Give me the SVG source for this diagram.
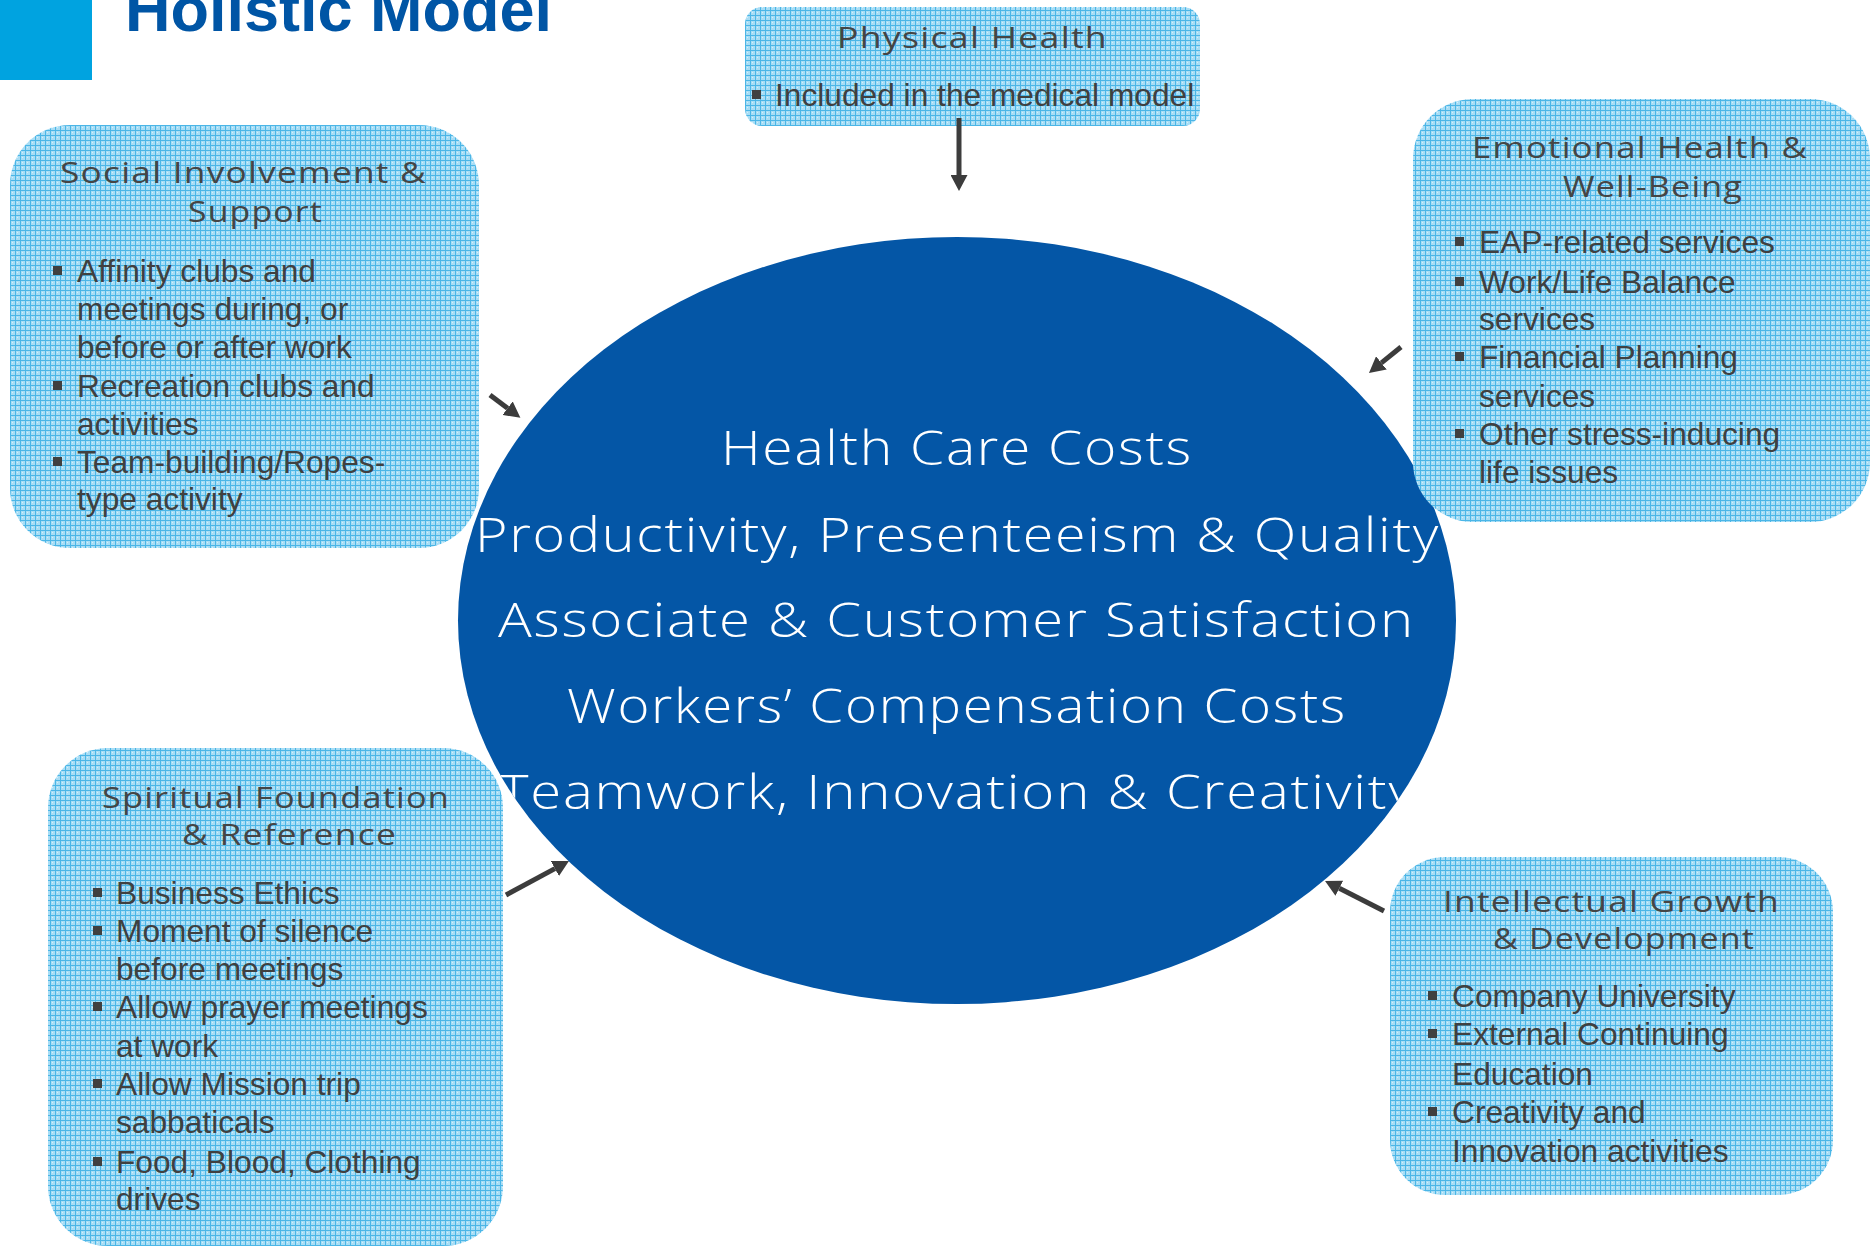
<svg xmlns="http://www.w3.org/2000/svg" width="1875" height="1247" viewBox="0 0 1875 1247">
  <defs>
    <style>
      .box { fill: url(#grid); }
      .head { font-family: "Open Sans", "DejaVu Sans", sans-serif; font-weight: 400; font-size: 29px; letter-spacing: 1px; fill: #454545; }
      .item { font-family: "Liberation Sans", Arial, sans-serif; font-size: 31.7px; fill: #404040; }
      .dot { fill: #404040; }
      .core { font-family: "Open Sans", "DejaVu Sans", sans-serif; font-weight: 300; font-size: 48px; letter-spacing: 1.5px; fill: #ffffff; }
      .conn line { stroke: #3c3c3c; stroke-width: 5; marker-end: url(#tip); }
    </style>
    <pattern id="grid" width="5" height="5" patternUnits="userSpaceOnUse">
      <rect width="5" height="5" fill="#a8ddf5"/>
      <rect width="5" height="1" fill="#4bb6e7"/>
      <rect width="1" height="5" fill="#4bb6e7"/>
      <rect x="2" y="2" width="1" height="1" fill="#d2f0fb"/>
    </pattern>
    <marker id="tip" markerUnits="userSpaceOnUse" viewBox="0 0 16 17" markerWidth="16" markerHeight="17" refX="0" refY="8.5" orient="auto">
      <path d="M0,0 L16,8.5 L0,17 z" fill="#3c3c3c"/>
    </marker>
    <clipPath id="oval">
      <ellipse cx="957" cy="620.5" rx="499" ry="383.5"/>
    </clipPath>
  </defs>

  <!-- page heading -->
  <g id="heading">
    <rect x="0" y="0" width="92" height="80" fill="#00a3e0"/>
    <text x="125" y="31" font-family="Liberation Sans, Arial, sans-serif" font-weight="bold" font-size="63" fill="#0055a5" textLength="427" lengthAdjust="spacingAndGlyphs">Holistic Model</text>
  </g>

  <!-- central outcomes -->
  <g id="outcomes">
    <ellipse cx="957" cy="620.5" rx="499" ry="383.5" fill="#0456a6"/>
    <g clip-path="url(#oval)">
      <text class="core" x="721" y="465" textLength="472" lengthAdjust="spacingAndGlyphs">Health Care Costs</text>
      <text class="core" x="475" y="552" textLength="965" lengthAdjust="spacingAndGlyphs">Productivity, Presenteeism &amp; Quality</text>
      <text class="core" x="498" y="637" textLength="917" lengthAdjust="spacingAndGlyphs">Associate &amp; Customer Satisfaction</text>
      <text class="core" x="567" y="723" textLength="780" lengthAdjust="spacingAndGlyphs">Workers’ Compensation Costs</text>
      <text class="core" x="499" y="809" textLength="917" lengthAdjust="spacingAndGlyphs">Teamwork, Innovation &amp; Creativity</text>
    </g>
  </g>

  <!-- Physical Health -->
  <g id="physical">
    <rect class="box" x="745" y="7" width="455" height="119" rx="17"/>
    <text class="head" x="837" y="48" textLength="271" lengthAdjust="spacingAndGlyphs">Physical Health</text>
    <rect class="dot" x="752" y="90" width="9" height="9"/>
    <text class="item" x="775" y="106">Included in the medical model</text>
  </g>

  <!-- Social Involvement & Support -->
  <g id="social">
    <rect class="box" x="10" y="125" width="469" height="423" rx="60"/>
    <text class="head" x="60" y="183" textLength="367" lengthAdjust="spacingAndGlyphs">Social Involvement &amp;</text>
    <text class="head" x="188" y="222" textLength="135" lengthAdjust="spacingAndGlyphs">Support</text>
    <rect class="dot" x="53" y="266" width="9" height="9"/>
    <text class="item" x="77" y="282">Affinity clubs and</text>
    <text class="item" x="77" y="320">meetings during, or</text>
    <text class="item" x="77" y="358">before or after work</text>
    <rect class="dot" x="53" y="381" width="9" height="9"/>
    <text class="item" x="77" y="397">Recreation clubs and</text>
    <text class="item" x="77" y="435">activities</text>
    <rect class="dot" x="53" y="457" width="9" height="9"/>
    <text class="item" x="77" y="473">Team-building/Ropes-</text>
    <text class="item" x="77" y="510">type activity</text>
  </g>

  <!-- Emotional Health & Well-Being -->
  <g id="emotional">
    <rect class="box" x="1413" y="99" width="457" height="423" rx="60"/>
    <text class="head" x="1472" y="158" textLength="336" lengthAdjust="spacingAndGlyphs">Emotional Health &amp;</text>
    <text class="head" x="1563" y="197" textLength="180" lengthAdjust="spacingAndGlyphs">Well-Being</text>
    <rect class="dot" x="1455" y="237" width="9" height="9"/>
    <text class="item" x="1479" y="253">EAP-related services</text>
    <rect class="dot" x="1455" y="277" width="9" height="9"/>
    <text class="item" x="1479" y="293">Work/Life Balance</text>
    <text class="item" x="1479" y="330">services</text>
    <rect class="dot" x="1455" y="352" width="9" height="9"/>
    <text class="item" x="1479" y="368">Financial Planning</text>
    <text class="item" x="1479" y="407">services</text>
    <rect class="dot" x="1455" y="429" width="9" height="9"/>
    <text class="item" x="1479" y="445">Other stress-inducing</text>
    <text class="item" x="1479" y="483">life issues</text>
  </g>

  <!-- Spiritual Foundation & Reference -->
  <g id="spiritual">
    <rect class="box" x="48" y="748" width="455" height="498" rx="60"/>
    <text class="head" x="102" y="808" textLength="348" lengthAdjust="spacingAndGlyphs">Spiritual Foundation</text>
    <text class="head" x="182" y="845" textLength="215" lengthAdjust="spacingAndGlyphs">&amp; Reference</text>
    <rect class="dot" x="93" y="888" width="9" height="9"/>
    <text class="item" x="116" y="904">Business Ethics</text>
    <rect class="dot" x="93" y="926" width="9" height="9"/>
    <text class="item" x="116" y="942">Moment of silence</text>
    <text class="item" x="116" y="980">before meetings</text>
    <rect class="dot" x="93" y="1002" width="9" height="9"/>
    <text class="item" x="116" y="1018">Allow prayer meetings</text>
    <text class="item" x="116" y="1057">at work</text>
    <rect class="dot" x="93" y="1079" width="9" height="9"/>
    <text class="item" x="116" y="1095">Allow Mission trip</text>
    <text class="item" x="116" y="1133">sabbaticals</text>
    <rect class="dot" x="93" y="1157" width="9" height="9"/>
    <text class="item" x="116" y="1173">Food, Blood, Clothing</text>
    <text class="item" x="116" y="1210">drives</text>
  </g>

  <!-- Intellectual Growth & Development -->
  <g id="intellectual">
    <rect class="box" x="1390" y="857" width="443" height="338" rx="55"/>
    <text class="head" x="1443" y="912" textLength="337" lengthAdjust="spacingAndGlyphs">Intellectual Growth</text>
    <text class="head" x="1493" y="949" textLength="262" lengthAdjust="spacingAndGlyphs">&amp; Development</text>
    <rect class="dot" x="1428" y="991" width="9" height="9"/>
    <text class="item" x="1452" y="1007">Company University</text>
    <rect class="dot" x="1428" y="1029" width="9" height="9"/>
    <text class="item" x="1452" y="1045">External Continuing</text>
    <text class="item" x="1452" y="1085">Education</text>
    <rect class="dot" x="1428" y="1107" width="9" height="9"/>
    <text class="item" x="1452" y="1123">Creativity and</text>
    <text class="item" x="1452" y="1162">Innovation activities</text>
  </g>

  <!-- arrows pointing into the central outcomes -->
  <g id="connectors" class="conn">
    <line x1="959" y1="118" x2="959" y2="175"/>
    <line x1="490" y1="395" x2="507.6" y2="408.2"/>
    <line x1="1401" y1="347" x2="1381.4" y2="362.9"/>
    <line x1="506" y1="895" x2="554.9" y2="868.6"/>
    <line x1="1384" y1="911" x2="1339.3" y2="888.2"/>
  </g>
</svg>
